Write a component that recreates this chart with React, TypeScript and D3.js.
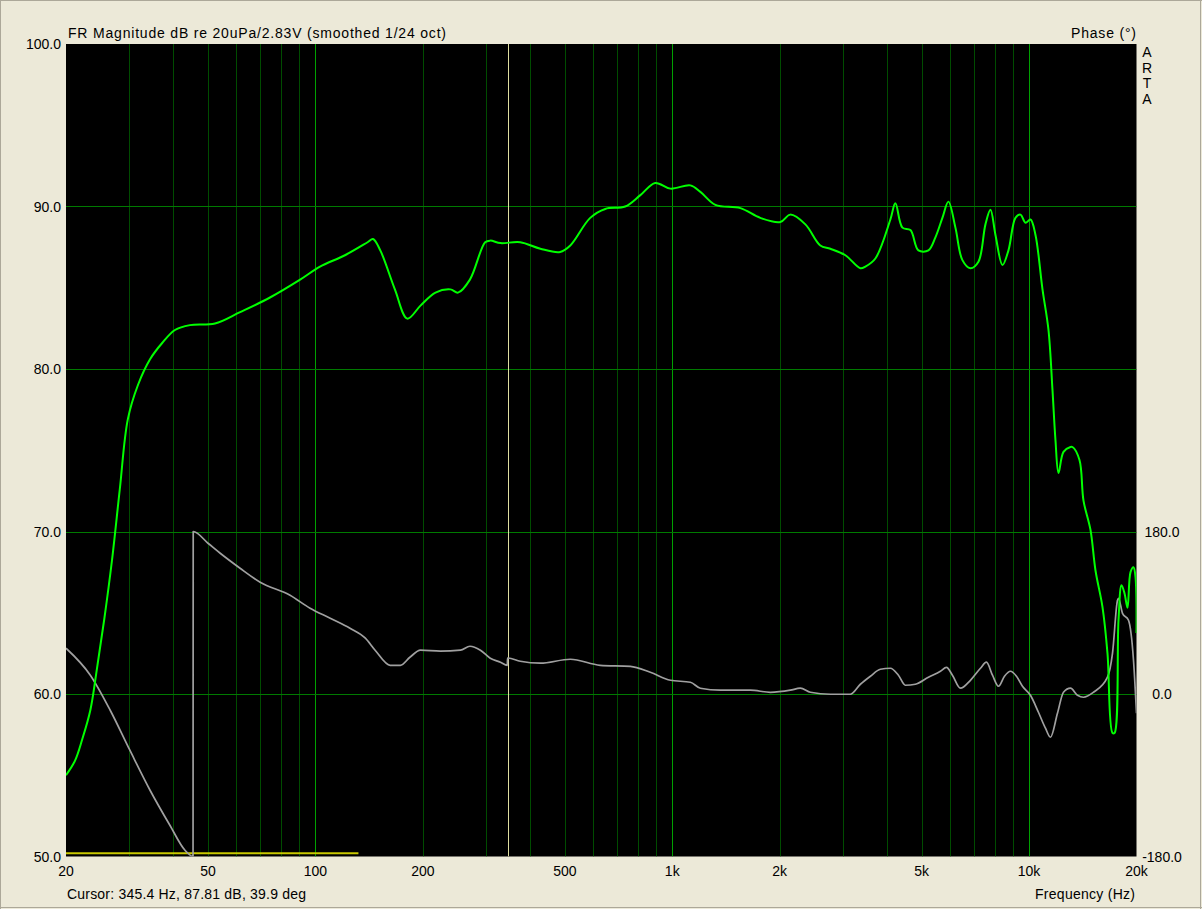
import React from "react";
import * as d3 from "d3";

const magFreq = [20, 21.2, 22.2, 23.4, 24.4, 25.6, 26.9, 28.3, 29.8, 31.8, 34.4, 37.2, 40.4, 44.5, 52.3, 61.5, 74.6, 90.6, 103, 121, 140, 145, 152, 167, 181, 197, 217, 239, 251, 271, 299, 309, 330, 375, 427, 485, 518, 589, 649, 738, 814, 896, 988, 1124, 1199, 1321, 1552, 1765, 2009, 2142, 2361, 2600, 2774, 3056, 3367, 3477, 3709, 4086, 4220, 4416, 4650, 4897, 5223, 5464, 5716, 5942, 6217, 6504, 6848, 7212, 7546, 7794, 8050, 8422, 8754, 9158, 9460, 9771, 10090, 10422, 10904, 11334, 11631, 11858, 12090, 12486, 13062, 13232, 13844, 14206, 14862, 15350, 16060, 16586, 17130, 17354, 17808, 18156, 18510, 18872, 19242, 19616, 19870, 20000];
const magDb = [55.0, 55.9, 57.2, 59.0, 61.5, 64.6, 68.2, 72.6, 76.9, 79.0, 80.6, 81.6, 82.4, 82.7, 82.8, 83.5, 84.4, 85.5, 86.3, 87.0, 87.8, 88.0, 87.3, 84.9, 83.1, 83.9, 84.7, 84.9, 84.7, 85.5, 87.8, 87.9, 87.75, 87.8, 87.4, 87.2, 87.6, 89.3, 89.85, 90.0, 90.7, 91.45, 91.1, 91.3, 90.9, 90.1, 89.9, 89.3, 89.05, 89.5, 88.9, 87.6, 87.4, 87.0, 86.2, 86.3, 86.8, 89.2, 90.2, 88.7, 88.55, 87.3, 87.3, 88.1, 89.3, 90.3, 88.7, 86.7, 86.2, 86.6, 88.9, 89.8, 88.25, 86.4, 87.3, 89.3, 89.5, 89.0, 89.2, 88.25, 84.9, 82.4, 78.7, 75.6, 73.6, 74.9, 75.2, 75.2, 74.4, 71.9, 70.1, 67.6, 65.35, 62.5, 57.6, 57.6, 64.55, 66.7, 66.2, 65.3, 67.5, 67.8, 67.2, 63.75];

const phaseFreq = [20, 23.4, 26.6, 30.2, 34.4, 39.1, 43.1, 45.4, 45.45, 50.0, 54.1, 61.5, 70.0, 84.9, 96.6, 110, 125, 138, 147, 162, 173, 184, 197, 224, 255, 271, 290, 309, 330, 345, 345.5, 375, 427, 518, 628, 763, 868, 988, 1124, 1199, 1364, 1655, 1883, 2142, 2285, 2438, 2774, 3156, 3367, 3592, 3831, 4086, 4303, 4500, 4802, 5223, 5644, 5868, 6098, 6422, 6848, 7306, 7594, 7896, 8208, 8532, 8868, 9218, 9582, 10090, 10622, 11114, 11478, 12010, 12486, 13062, 13666, 14206, 15152, 16586, 17130, 17692, 17808, 18272, 18992, 19616, 20000];
const phaseDeg = [50.7, 20.8, -18.0, -62.3, -106.6, -145.4, -173.1, -180, 180, 167.0, 155.9, 139.3, 123.8, 109.4, 95.0, 83.9, 72.8, 61.8, 48.5, 31.8, 31.8, 40.7, 48.5, 47.4, 48.5, 52.9, 48.5, 39.6, 35.2, 31.8, 39.9, 36.3, 34.1, 38.5, 31.8, 30.7, 24.1, 15.2, 13.0, 6.4, 4.2, 4.2, 1.9, 4.2, 6.4, 1.9, -0.3, -0.3, 10.8, 19.7, 27.4, 28.5, 20.8, 9.7, 10.8, 18.6, 25.2, 29.6, 20.8, 6.4, 15.2, 28.5, 35.2, 20.8, 8.6, 19.7, 25.2, 19.7, 8.6, -1.4, -20.2, -37.9, -47.9, -21.3, 1.9, 6.4, -1.4, -3.6, 1.9, 18.6, 45.1, 103.8, 106.0, 89.4, 81.7, 37.4, -21.3];

const dbTicks = [100, 90, 80, 70, 60, 50];
const dbGrid = [90, 80, 70, 60];
const phaseTicks = [180, 0, -180];
const freqTickValues = [20, 50, 100, 200, 500, 1000, 2000, 5000, 10000, 20000];
const freqTickLabels = ["20", "50", "100", "200", "500", "1k", "2k", "5k", "10k", "20k"];
const decadeLines = [100, 1000, 10000];
const cursorFreq = 345.4;
const gateRange = [20, 132];
const gateLevel = 50.2;

const W = 1202;
const H = 909;
const X0 = 66;
const X1 = 1136.5;
const Y0 = 44;
const Y1 = 856.5;
const FONT = "'Liberation Sans', Arial, sans-serif";

export default function App() {
  const x = d3.scaleLog().domain([20, 20000]).range([X0, X1]);
  const y = d3.scaleLinear().domain([50, 100]).range([Y1, Y0]);
  const yp = d3.scaleLinear().domain([-180, 720]).range([Y1, Y0]);

  const minorFreqs: number[] = [];
  [10, 100, 1000, 10000].forEach((d) => {
    for (let m = 1; m <= 9; m++) {
      const f = d * m;
      if (f > 20 && f < 20000) minorFreqs.push(f);
    }
  });

  const magLine = d3
    .line<number>()
    .x((_, i) => x(magFreq[i]))
    .y((v) => y(v))
    .curve(d3.curveCatmullRom.alpha(0.5));
  const phaseLine = d3
    .line<number>()
    .x((_, i) => x(phaseFreq[i]))
    .y((v) => yp(v))
    .curve(d3.curveMonotoneX);

  return (
    <div style={{ position: "fixed", left: 0, top: 0 }}>
      <svg width={W} height={H} style={{ display: "block" }}>
        <defs>
          <clipPath id="plotclip">
            <rect x={X0} y={Y0} width={X1 - X0} height={Y1 - Y0} />
          </clipPath>
        </defs>
        <rect x={0} y={0} width={W} height={H} fill="#ECE9D8" />
        <line x1={0} y1={0.5} x2={W} y2={0.5} stroke="#ACA899" />
        <line x1={0.5} y1={0} x2={0.5} y2={H} stroke="#ACA899" />
        <line x1={W - 1.5} y1={0} x2={W - 1.5} y2={H} stroke="#ACA899" />
        <line x1={0} y1={H - 1.5} x2={W} y2={H - 1.5} stroke="#ACA899" />
        <rect x={X0} y={Y0} width={X1 - X0} height={Y1 - Y0} fill="#000" />
        <g clipPath="url(#plotclip)">
          {minorFreqs.map((f) => {
            const px = Math.round(x(f)) + 0.5;
            const dec = decadeLines.includes(f);
            return (
              <line key={"v" + f} x1={px} x2={px} y1={Y0} y2={Y1} stroke={dec ? "#00A000" : "#004C00"} strokeWidth={1} />
            );
          })}
          {dbGrid.map((t) => {
            const py = Math.round(y(t)) + 0.5;
            return <line key={"h" + t} x1={X0} x2={X1} y1={py} y2={py} stroke="#007A00" strokeWidth={1} />;
          })}
          <line x1={Math.round(x(cursorFreq)) + 0.5} x2={Math.round(x(cursorFreq)) + 0.5} y1={Y0} y2={Y1} stroke="#DEDEA0" strokeWidth={1} />
          <line x1={x(gateRange[0])} x2={x(gateRange[1])} y1={y(gateLevel)} y2={y(gateLevel)} stroke="#C8C800" strokeWidth={2} />
          <path d={phaseLine(phaseDeg) || ""} fill="none" stroke="#A0A0A0" strokeWidth={1.7} strokeLinejoin="round" />
          <path d={magLine(magDb) || ""} fill="none" stroke="#00FF00" strokeWidth={2} strokeLinejoin="round" />
        </g>
        <g fontFamily={FONT} fontSize={14} fill="#000">
          <text x={68} y={38} textLength={378} lengthAdjust="spacing">FR Magnitude dB re 20uPa/2.83V (smoothed 1/24 oct)</text>
          <text x={1071} y={38} textLength={65} lengthAdjust="spacing">Phase (°)</text>
          {["A", "R", "T", "A"].map((c, i) => (
            <text key={"arta" + i} x={1147} y={57 + i * 15.5} textAnchor="middle">{c}</text>
          ))}
          {dbTicks.map((t) => (
            <text key={"yl" + t} x={61} y={y(t)} dy="0.36em" textAnchor="end">{t.toFixed(1)}</text>
          ))}
          {phaseTicks.map((t) => (
            <text key={"pl" + t} x={1162} y={yp(t)} dy="0.36em" textAnchor="middle">{t.toFixed(1)}</text>
          ))}
          {freqTickValues.map((f, i) => (
            <text key={"xl" + f} x={x(f)} y={876} textAnchor="middle">{freqTickLabels[i]}</text>
          ))}
          <text x={67} y={899} textLength={239} lengthAdjust="spacing">Cursor: 345.4 Hz, 87.81 dB, 39.9 deg</text>
          <text x={1035} y={899} textLength={100} lengthAdjust="spacing">Frequency (Hz)</text>
        </g>
      </svg>
    </div>
  );
}
